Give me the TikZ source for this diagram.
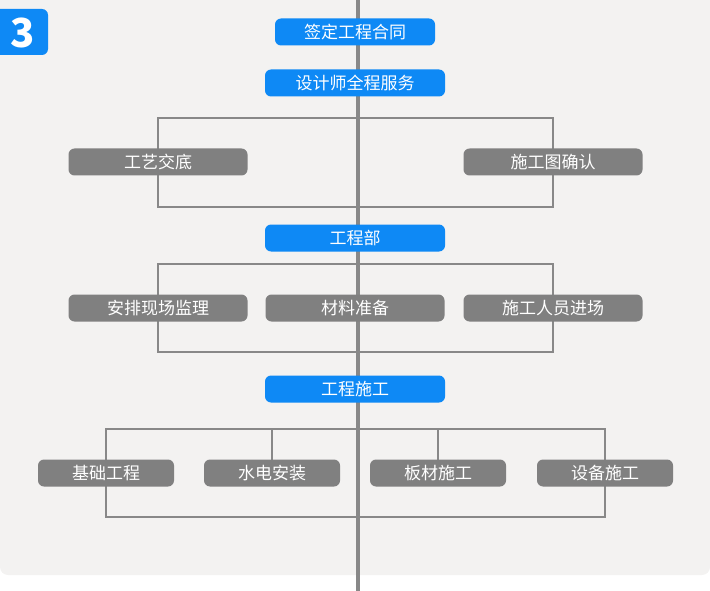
\documentclass[tikz,border=0pt]{standalone}
\usepackage{fontspec}
\setmainfont{Noto Sans CJK SC}
\usepackage{xcolor}
\usepackage{tikz}
\usetikzlibrary{positioning, calc}
\definecolor{primary}{RGB}{14, 137, 245}
\definecolor{stepgray}{RGB}{128, 128, 128}
\definecolor{linegray}{RGB}{136, 136, 136}
\definecolor{panel}{RGB}{243, 242, 241}

\begin{document}
\begin{tikzpicture}[
    x=1pt, y=-1pt,
    stage/.style={rectangle, fill=primary, rounded corners=6pt, text=white,
                  minimum width=180pt, minimum height=27pt, inner sep=0pt, font=\fontsize{17}{17}\selectfont},
    task/.style={rectangle, fill=stepgray, rounded corners=6pt, text=white,
                 minimum width=179pt, minimum height=27pt, inner sep=0pt, font=\fontsize{17}{17}\selectfont},
    small/.style={task, minimum width=136pt},
    link/.style={draw=linegray, line width=1.5pt}
]
\useasboundingbox (0,0) rectangle (710,591);

% Background
\fill[panel, rounded corners=8pt] (0,-10) rectangle (710,575);
\fill[primary, rounded corners=6pt] (-10,9) rectangle (48,55);
\node[text=white, font=\fontsize{40}{40}\selectfont\bfseries] (badge) at (23,33) {3};

% Main line
\coordinate (top) at (358,0);
\coordinate (bottom) at (358,591);
\draw[draw=linegray, line width=4pt] (top) -- (bottom);

% Stages
\node[stage, minimum width=160pt] (contract) at (355,32) {签定工程合同};
\node[stage] (design) at (355,83) {设计师全程服务};
\node[stage] (dept) at (355,238) {工程部};
\node[stage] (build) at (355,389) {工程施工};

% Brackets
\draw[link] (158,118) rectangle (553,207);
\draw[link] (158,264) rectangle (553,352);
\draw[link] (106,429) rectangle (605,517);
\draw[link] (272,429) -- (272,473);
\draw[link] (438,429) -- (438,473);

% Tasks
\node[task] (brief) at (158,162) {工艺交底};
\node[task] (drawing) at (553,162) {施工图确认};
\node[task] (supervise) at (158,308) {安排现场监理};
\node[task] (material) at (355,308) {材料准备};
\node[task] (crew) at (553,308) {施工人员进场};
\node[small] (base) at (106,473) {基础工程};
\node[small] (utility) at (272,473) {水电安装};
\node[small] (panels) at (438,473) {板材施工};
\node[small] (equip) at (605,473) {设备施工};

\end{tikzpicture}
\end{document}
